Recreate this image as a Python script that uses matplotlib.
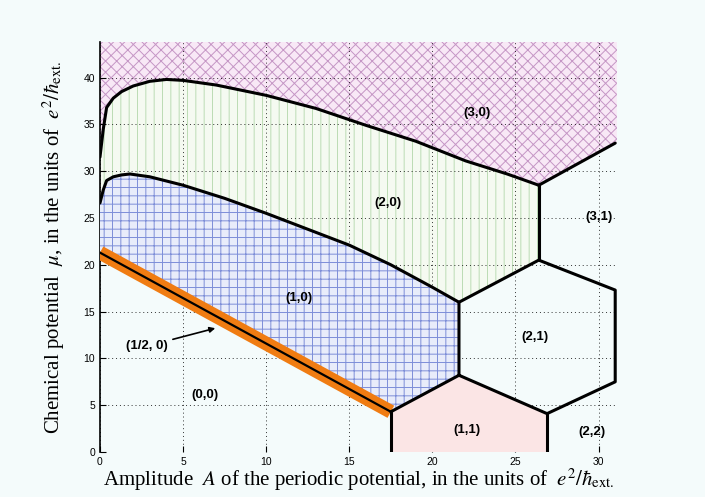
"""Phase diagram of (n, m) states vs amplitude A and chemical potential mu."""

import numpy as np
import matplotlib
matplotlib.use("Agg")
import matplotlib.pyplot as plt

plt.rcParams["mathtext.fontset"] = "stix"
plt.rcParams["hatch.linewidth"] = 0.7

# boundary between (2,0) and (3,0)
A_top = [0.0, 0.2, 0.4, 0.8, 1.3, 2.0, 3.0, 4.0, 5.0, 7.0, 10.0, 13.0, 16.0, 19.0, 22.0, 24.5, 26.4]
mu_top = [31.5, 34.5, 36.8, 37.8, 38.5, 39.1, 39.6, 39.8, 39.7, 39.2, 38.1, 36.7, 34.9, 33.2, 31.1, 29.7, 28.5]

# boundary between (1,0) and (2,0)
A_mid = [0.0, 0.2, 0.4, 0.8, 1.3, 1.8, 3.0, 5.0, 7.5, 10.0, 12.5, 15.0, 17.5, 20.0, 21.6]
mu_mid = [26.6, 28.0, 29.0, 29.4, 29.6, 29.7, 29.4, 28.5, 27.1, 25.5, 23.8, 22.1, 20.0, 17.6, 16.0]

# the (1/2, 0) line
A_half = [0.0, 17.5]
mu_half = [21.3, 4.3]

# hexagon vertices (A, mu)
P_11_left = (17.5, 4.3)
P_21_bl = (21.6, 8.2)
P_21_tl = (21.6, 16.0)
P_21_top = (26.4, 20.5)
P_21_tr = (31.0, 17.3)
P_21_br = (31.0, 7.5)
P_21_bot = (26.9, 4.1)
P_30_corner = (26.4, 28.5)
P_30_right = (31.0, 33.0)

labels = ["(3,0)", "(2,0)", "(3,1)", "(1,0)", "(2,1)", "(0,0)", "(1,1)", "(2,2)"]
label_pos = [(22.7, 36.2), (17.3, 26.6), (30.0, 25.1), (12.0, 16.5),
             (26.2, 12.3), (6.3, 6.1), (22.1, 2.3), (29.6, 2.1)]

XMAX, YMAX = 31.1, 43.8
bg = "#f4fbfb"

fig = plt.figure(figsize=(7.05, 4.97), dpi=100, facecolor=bg)
ax = fig.add_axes([0.1418, 0.0905, 0.7332, 0.825], facecolor=bg)

# (3,0) region
poly30 = list(zip(A_top, mu_top)) + [P_30_right, (XMAX, P_30_right[1]), (XMAX, YMAX), (0, YMAX)]
ax.fill(*zip(*poly30), facecolor="#f8e8f6", edgecolor="#c596c5", hatch="xxx", lw=0, zorder=1)

# (2,0) region
poly20 = list(zip(A_top, mu_top)) + [P_21_top, P_21_tl] + list(zip(A_mid, mu_mid))[::-1]
ax.fill(*zip(*poly20), facecolor="#f5faf1", edgecolor="#bcdcb4", hatch="||", lw=0, zorder=1)

# (1,0) region
poly10 = list(zip(A_mid, mu_mid)) + [P_21_bl, P_11_left] + list(zip(A_half, mu_half))[::-1]
ax.fill(*zip(*poly10), facecolor="#e8ecfa", edgecolor="#7d8ed8", hatch="++", lw=0, zorder=3)

# (1,1) region
poly11 = [(P_11_left[0], 0), P_11_left, P_21_bl, P_21_bot, (P_21_bot[0], 0)]
ax.fill(*zip(*poly11), facecolor="#fbe5e5", lw=0, zorder=3)

# boundaries
kw = dict(color="black", lw=2.2, zorder=5, solid_capstyle="round")
ax.plot(A_top, mu_top, **kw)
ax.plot(A_mid, mu_mid, **kw)
ax.plot(*zip(P_30_corner, P_21_top), **kw)
ax.plot(*zip(P_30_corner, P_30_right), **kw)
hexa = [P_21_bl, P_21_tl, P_21_top, P_21_tr, P_21_br, P_21_bot, P_21_bl]
ax.plot(*zip(*hexa), **kw)
ax.plot([P_11_left[0], P_11_left[0]], [0, P_11_left[1]], **kw)
ax.plot([P_21_bot[0], P_21_bot[0]], [0, P_21_bot[1]], **kw)
ax.plot(*zip(P_11_left, P_21_bl), **kw)
ax.plot(A_half, mu_half, color="#f07c12", lw=10, zorder=4, solid_capstyle="butt")
ax.plot(A_half, mu_half, color="black", lw=1.6, zorder=5)

for text, (x, y) in zip(labels, label_pos):
    ax.text(x, y, text, ha="center", va="center", fontsize=9.5, fontweight="bold",
            family="Liberation Sans", zorder=6)

ax.annotate("(1/2, 0)", xy=(7.1, 13.3), xytext=(2.8, 11.3), ha="center", va="center",
            fontsize=9.5, fontweight="bold", family="Liberation Sans", zorder=6,
            arrowprops=dict(arrowstyle="-|>", color="black", lw=1.2, mutation_scale=8))

ax.set_xlim(0, XMAX)
ax.set_ylim(0, YMAX)
ax.set_xticks(np.arange(0, 31, 5))
ax.set_yticks(np.arange(0, 41, 5))
ax.set_axisbelow(False)
ax.grid(True, color="black", ls=(0, (1, 3)), lw=0.7, alpha=0.8)
for s in ["top", "right", "bottom"]:
    ax.spines[s].set_visible(False)
ax.spines["left"].set_linewidth(1.2)
ax.tick_params(direction="in", labelsize=7.5, length=4)
for lab in ax.get_xticklabels() + ax.get_yticklabels():
    lab.set_family("Liberation Sans")

ax.set_xlabel(r"Amplitude  $A$ of the periodic potential, in the units of  $e^2/\hbar_{\rm ext.}$",
              family="Liberation Serif", fontsize=15, labelpad=0)
ax.set_ylabel(r"Chemical potential  $\mu$, in the units of  $e^2/\hbar_{\rm ext.}$",
              family="Liberation Serif", fontsize=15, labelpad=12)

fig.savefig("out.png", dpi=100, facecolor=bg)
